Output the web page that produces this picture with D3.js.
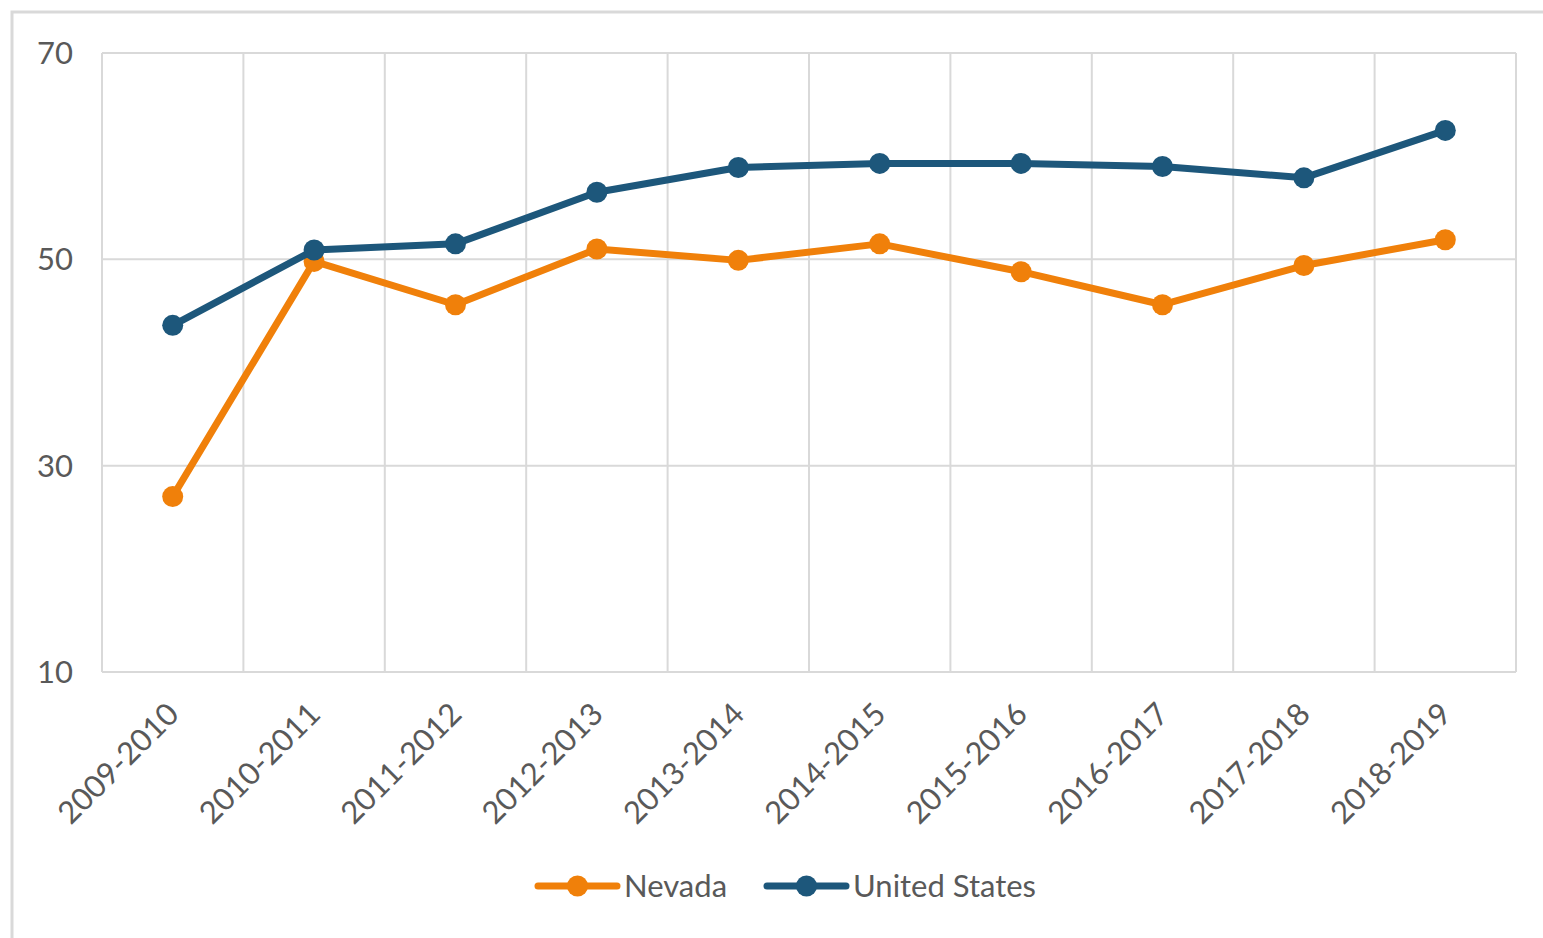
<!DOCTYPE html>
<html>
<head>
<meta charset="utf-8">
<script src="https://cdn.jsdelivr.net/npm/d3@7"></script>
<style>
  html, body { margin: 0; padding: 0; background: #fff; }
  svg { display: block; }
</style>
</head>
<body>
<div id="chart"></div>
<script>
// School years on the x axis
const years = ["2009-2010", "2010-2011", "2011-2012", "2012-2013", "2013-2014",
               "2014-2015", "2015-2016", "2016-2017", "2017-2018", "2018-2019"];
const nevada = [27.0, 49.8, 45.6, 51.0, 49.9, 51.5, 48.8, 45.6, 49.4, 51.9];
const unitedStates = [43.6, 50.9, 51.5, 56.5, 58.9, 59.3, 59.3, 59.0, 57.9, 62.5];
const yTicks = [10, 30, 50, 70];

const series = [
    { name: "Nevada", values: nevada, color: "#f0800a" },
    { name: "United States", values: unitedStates, color: "#1d577b" }
];

const width = 1543, height = 938;
const margin = { top: 53, right: 27, bottom: 266, left: 102 };

const svg = d3.select("#chart").append("svg")
    .attr("width", width)
    .attr("height", height);

// outer chart-area border (only top/left visible in the frame)
svg.append("rect")
    .attr("x", 12).attr("y", 12)
    .attr("width", width + 40).attr("height", height + 40)
    .attr("fill", "none")
    .attr("stroke", "#d9d9d9")
    .attr("stroke-width", 3);

const x = d3.scaleBand()
    .domain(years)
    .range([margin.left, width - margin.right]);

const y = d3.scaleLinear()
    .domain([10, 70])
    .range([height - margin.bottom, margin.top]);

const font = "Lato, 'Open Sans', sans-serif";
const grid = svg.append("g").attr("stroke", "#d9d9d9").attr("stroke-width", 2);

// horizontal gridlines
grid.selectAll("line.h")
    .data(yTicks)
    .join("line")
    .attr("class", "h")
    .attr("x1", margin.left).attr("x2", width - margin.right)
    .attr("y1", d => y(d)).attr("y2", d => y(d));

// vertical gridlines at category boundaries
const bounds = years.map(d => x(d)).concat([x.range()[1]]);
grid.selectAll("line.v")
    .data(bounds)
    .join("line")
    .attr("class", "v")
    .attr("x1", d => d).attr("x2", d => d)
    .attr("y1", y(10)).attr("y2", y(70));

// y tick labels
svg.append("g")
    .selectAll("text")
    .data(yTicks)
    .join("text")
    .attr("x", margin.left - 29)
    .attr("y", d => y(d))
    .attr("dy", "0.35em")
    .attr("text-anchor", "end")
    .attr("font-family", font)
    .attr("font-size", 31)
    .attr("fill", "#595959")
    .text(d => d);

// x tick labels, rotated
svg.append("g")
    .selectAll("text")
    .data(years)
    .join("text")
    .attr("transform", d => `translate(${x(d) + x.bandwidth() / 2 + 8},${y(10) + 44}) rotate(-45)`)
    .attr("text-anchor", "end")
    .attr("font-family", font)
    .attr("font-size", 31)
    .attr("fill", "#595959")
    .text(d => d);

const line = d3.line()
    .x((d, i) => x(years[i]) + x.bandwidth() / 2)
    .y(d => y(d));

series.forEach(s => {
    svg.append("path")
        .datum(s.values)
        .attr("d", line)
        .attr("fill", "none")
        .attr("stroke", s.color)
        .attr("stroke-width", 7)
        .attr("stroke-linejoin", "round");
    svg.append("g")
        .selectAll("circle")
        .data(s.values)
        .join("circle")
        .attr("cx", (d, i) => x(years[i]) + x.bandwidth() / 2)
        .attr("cy", d => y(d))
        .attr("r", 10.5)
        .attr("fill", s.color);
});

// legend
const legendPos = [538, 767];
const legend = svg.append("g")
    .selectAll("g")
    .data(series)
    .join("g")
    .attr("transform", (d, i) => `translate(${legendPos[i]},886)`);

legend.append("line")
    .attr("x1", 0).attr("x2", 79)
    .attr("stroke", d => d.color)
    .attr("stroke-width", 7)
    .attr("stroke-linecap", "round");
legend.append("circle")
    .attr("cx", 39.5)
    .attr("r", 10.5)
    .attr("fill", d => d.color);
legend.append("text")
    .attr("x", 86)
    .attr("dy", "0.35em")
    .attr("font-family", font)
    .attr("font-size", 31)
    .attr("fill", "#595959")
    .text(d => d.name);
</script>
</body>
</html>
